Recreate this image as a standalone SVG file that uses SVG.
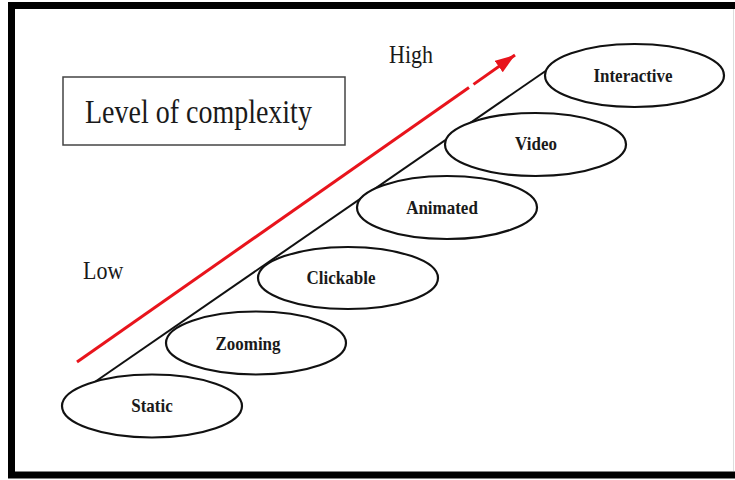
<svg xmlns="http://www.w3.org/2000/svg" width="735" height="480" viewBox="0 0 735 480">
  <style>
    .node ellipse { fill: #ffffff; stroke: #111111; stroke-width: 2.2; }
    .node text { font-family: "Liberation Serif", "Times New Roman", serif; font-weight: bold; font-size: 17px; fill: #1a1a1a; text-anchor: middle; }
    .plain { font-family: "Liberation Serif", "Times New Roman", serif; fill: #1a1a1a; }
    .stair { stroke: #111111; stroke-width: 2; fill: none; }
    .red { stroke: #e8141c; stroke-width: 3; fill: none; }
  </style>
  <defs>
    <marker id="redHead" markerUnits="userSpaceOnUse" markerWidth="22" markerHeight="16" refX="20" refY="7" orient="auto">
      <path d="M0,0 L20,7 L0,14 z" fill="#e8141c"/>
    </marker>
  </defs>
  <rect x="0" y="0" width="735" height="480" fill="#ffffff"/>
  <g id="frame">
    <rect x="11.5" y="5.5" width="740" height="469.5" fill="none" stroke="#000000" stroke-width="7"/>
    <line x1="733.5" y1="9" x2="733.5" y2="471" stroke="#dddddd" stroke-width="1"/>
  </g>
  <g id="title">
    <rect x="63" y="77" width="282" height="68" fill="#ffffff" stroke="#444444" stroke-width="1.5"/>
    <text class="plain" transform="translate(85,123) scale(1,1.2)" font-size="28">Level of complexity</text>
  </g>
  <g id="label-high"><text class="plain" transform="translate(389,63) scale(1,1.12)" font-size="22">High</text></g>
  <g id="label-low"><text class="plain" transform="translate(83,279) scale(1,1.12)" font-size="22">Low</text></g>
  <g id="connectors">
    <line class="stair" x1="89" y1="386" x2="547" y2="70"/>
    <line class="red" x1="77" y1="362" x2="469" y2="87.5"/>
    <line class="red" x1="473.5" y1="84.4" x2="515" y2="55" marker-end="url(#redHead)"/>
  </g>
  <g id="node-static" class="node">
    <ellipse cx="152" cy="406" rx="90" ry="31.5"/>
    <text transform="translate(152,412) scale(1,1.15)">Static</text>
  </g>
  <g id="node-zooming" class="node">
    <ellipse cx="256" cy="343" rx="90" ry="31.5"/>
    <text transform="translate(248,350) scale(1,1.15)">Zooming</text>
  </g>
  <g id="node-clickable" class="node">
    <ellipse cx="348" cy="278" rx="90" ry="31"/>
    <text transform="translate(341,284) scale(1,1.15)">Clickable</text>
  </g>
  <g id="node-animated" class="node">
    <ellipse cx="447" cy="207.5" rx="90" ry="31.5"/>
    <text transform="translate(442,214) scale(1,1.15)">Animated</text>
  </g>
  <g id="node-video" class="node">
    <ellipse cx="535.5" cy="144.5" rx="90.5" ry="31.5"/>
    <text transform="translate(536,150) scale(1,1.15)">Video</text>
  </g>
  <g id="node-interactive" class="node">
    <ellipse cx="634.5" cy="75.5" rx="89.5" ry="31.5"/>
    <text transform="translate(633,82) scale(1,1.15)">Interactive</text>
  </g>
</svg>
